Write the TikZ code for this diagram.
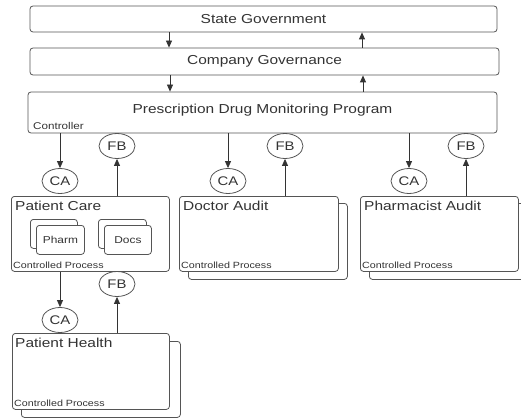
\documentclass[tikz,border=0pt]{standalone}
\usepackage{fontspec}
\setmainfont[FakeStretch=1.19]{Liberation Sans}
\usetikzlibrary{arrows.meta,positioning,shapes.geometric}
\definecolor{ln}{HTML}{555555}
\definecolor{tx}{HTML}{333333}
\begin{document}
\begin{tikzpicture}[x=1pt,y=-1pt,
  box/.style={draw=ln,line width=0.8pt,rounded corners=3pt,fill=white,inner sep=0pt,anchor=north west},
  bigbox/.style={draw=ln,line width=0.8pt,rounded corners=3pt,fill=white,inner sep=0pt},
  ell/.style={draw=ln,line width=0.8pt,ellipse,minimum width=36pt,minimum height=25pt,inner sep=0pt,font=\fontsize{12.5}{12.5}\selectfont,text=tx},
  arr/.style={draw=tx,line width=0.8pt,-{Triangle[length=7pt,width=6pt]}},
  ttl/.style={text=tx,inner sep=0pt,anchor=north west,font=\fontsize{13}{13}\selectfont},
  sml/.style={text=tx,inner sep=0pt,anchor=south west,font=\fontsize{9}{9}\selectfont},
]
\useasboundingbox (0,0) rectangle (521,417);
% top boxes
\node[bigbox,minimum width=467pt,minimum height=26pt,font=\fontsize{13}{13}\selectfont,text=tx] (state) at (263.5,19) {State Government};
\node[bigbox,minimum width=469pt,minimum height=27pt,font=\fontsize{13}{13}\selectfont,text=tx] (comp) at (264.5,61.5) {Company Governance};
\node[bigbox,minimum width=469pt,minimum height=41pt] (pdmp) at (262.5,112.5) {};
\node[text=tx,inner sep=0pt,font=\fontsize{13}{13}\selectfont] (pdmpt) at (262.5,110.5) {Prescription Drug Monitoring Program};
\node[sml,font=\fontsize{9.8}{10}\selectfont] (ctl) at (33,130) {Controller};
\draw[arr] (state.south -| 169,0) -- (comp.north -| 169,0);
\draw[arr] (comp.north -| 362,0) -- (state.south -| 362,0);
\draw[arr] (comp.south -| 170,0) -- (pdmp.north -| 170,0);
\draw[arr] (pdmp.north -| 363,0) -- (comp.south -| 363,0);

% Patient Care
\node[box,minimum width=158pt,minimum height=75pt] (pc) at (11,196) {};
\node[ttl] (pct) at (15,201) {Patient Care};
\node[sml] (pcs) at (13,269) {Controlled Process};
\node[box,minimum width=47pt,minimum height=29pt] (ph1b) at (30,219) {};
\node[box,minimum width=48pt,minimum height=29pt,font=\fontsize{10}{10}\selectfont,text=tx] (ph1) at (36,225) {Pharm};
\node[box,minimum width=48pt,minimum height=29pt] (dc1b) at (98,219) {};
\node[box,minimum width=47pt,minimum height=29pt,font=\fontsize{10}{10}\selectfont,text=tx] (dc1) at (104,225) {Docs};
\node[ell] (ca1) at (60,181) {CA};
\node[ell] (fb1) at (117,146) {FB};
\draw[arr] (pdmp.south -| ca1) -- (ca1.north);
\draw[arr] (pc.north -| fb1) -- (fb1.south);

% Doctor Audit
\node[box,minimum width=159pt,minimum height=76pt] (dab) at (188,203) {};
\node[box,minimum width=159pt,minimum height=75pt] (da) at (179,196) {};
\node[ttl] (dat) at (183,201) {Doctor Audit};
\node[sml] (das) at (181,269) {Controlled Process};
\node[ell] (ca2) at (228,181) {CA};
\node[ell] (fb2) at (285,146) {FB};
\draw[arr] (pdmp.south -| ca2) -- (ca2.north);
\draw[arr] (da.north -| fb2) -- (fb2.south);

% Pharmacist Audit
\node[box,minimum width=159pt,minimum height=76pt] (pab) at (369,203) {};
\node[box,minimum width=158pt,minimum height=75pt] (pa) at (360,196) {};
\node[ttl] (pat) at (364,201) {Pharmacist Audit};
\node[sml] (pas) at (362,269) {Controlled Process};
\node[ell] (ca3) at (409,181) {CA};
\node[ell] (fb3) at (466,146) {FB};
\draw[arr] (pdmp.south -| ca3) -- (ca3.north);
\draw[arr] (pa.north -| fb3) -- (fb3.south);

% Patient Health
\node[box,minimum width=159pt,minimum height=76pt] (phb) at (21,341) {};
\node[box,minimum width=157pt,minimum height=76pt] (ph) at (12,333) {};
\node[ttl] (pht) at (15,338) {Patient Health};
\node[sml] (phs) at (14,407) {Controlled Process};
\node[ell] (ca4) at (60,320) {CA};
\node[ell] (fb4) at (117,284) {FB};
\draw[arr] (pc.south -| ca4) -- (ca4.north);
\draw[arr] (ph.north -| fb4) -- (fb4.south);
\end{tikzpicture}
\end{document}
